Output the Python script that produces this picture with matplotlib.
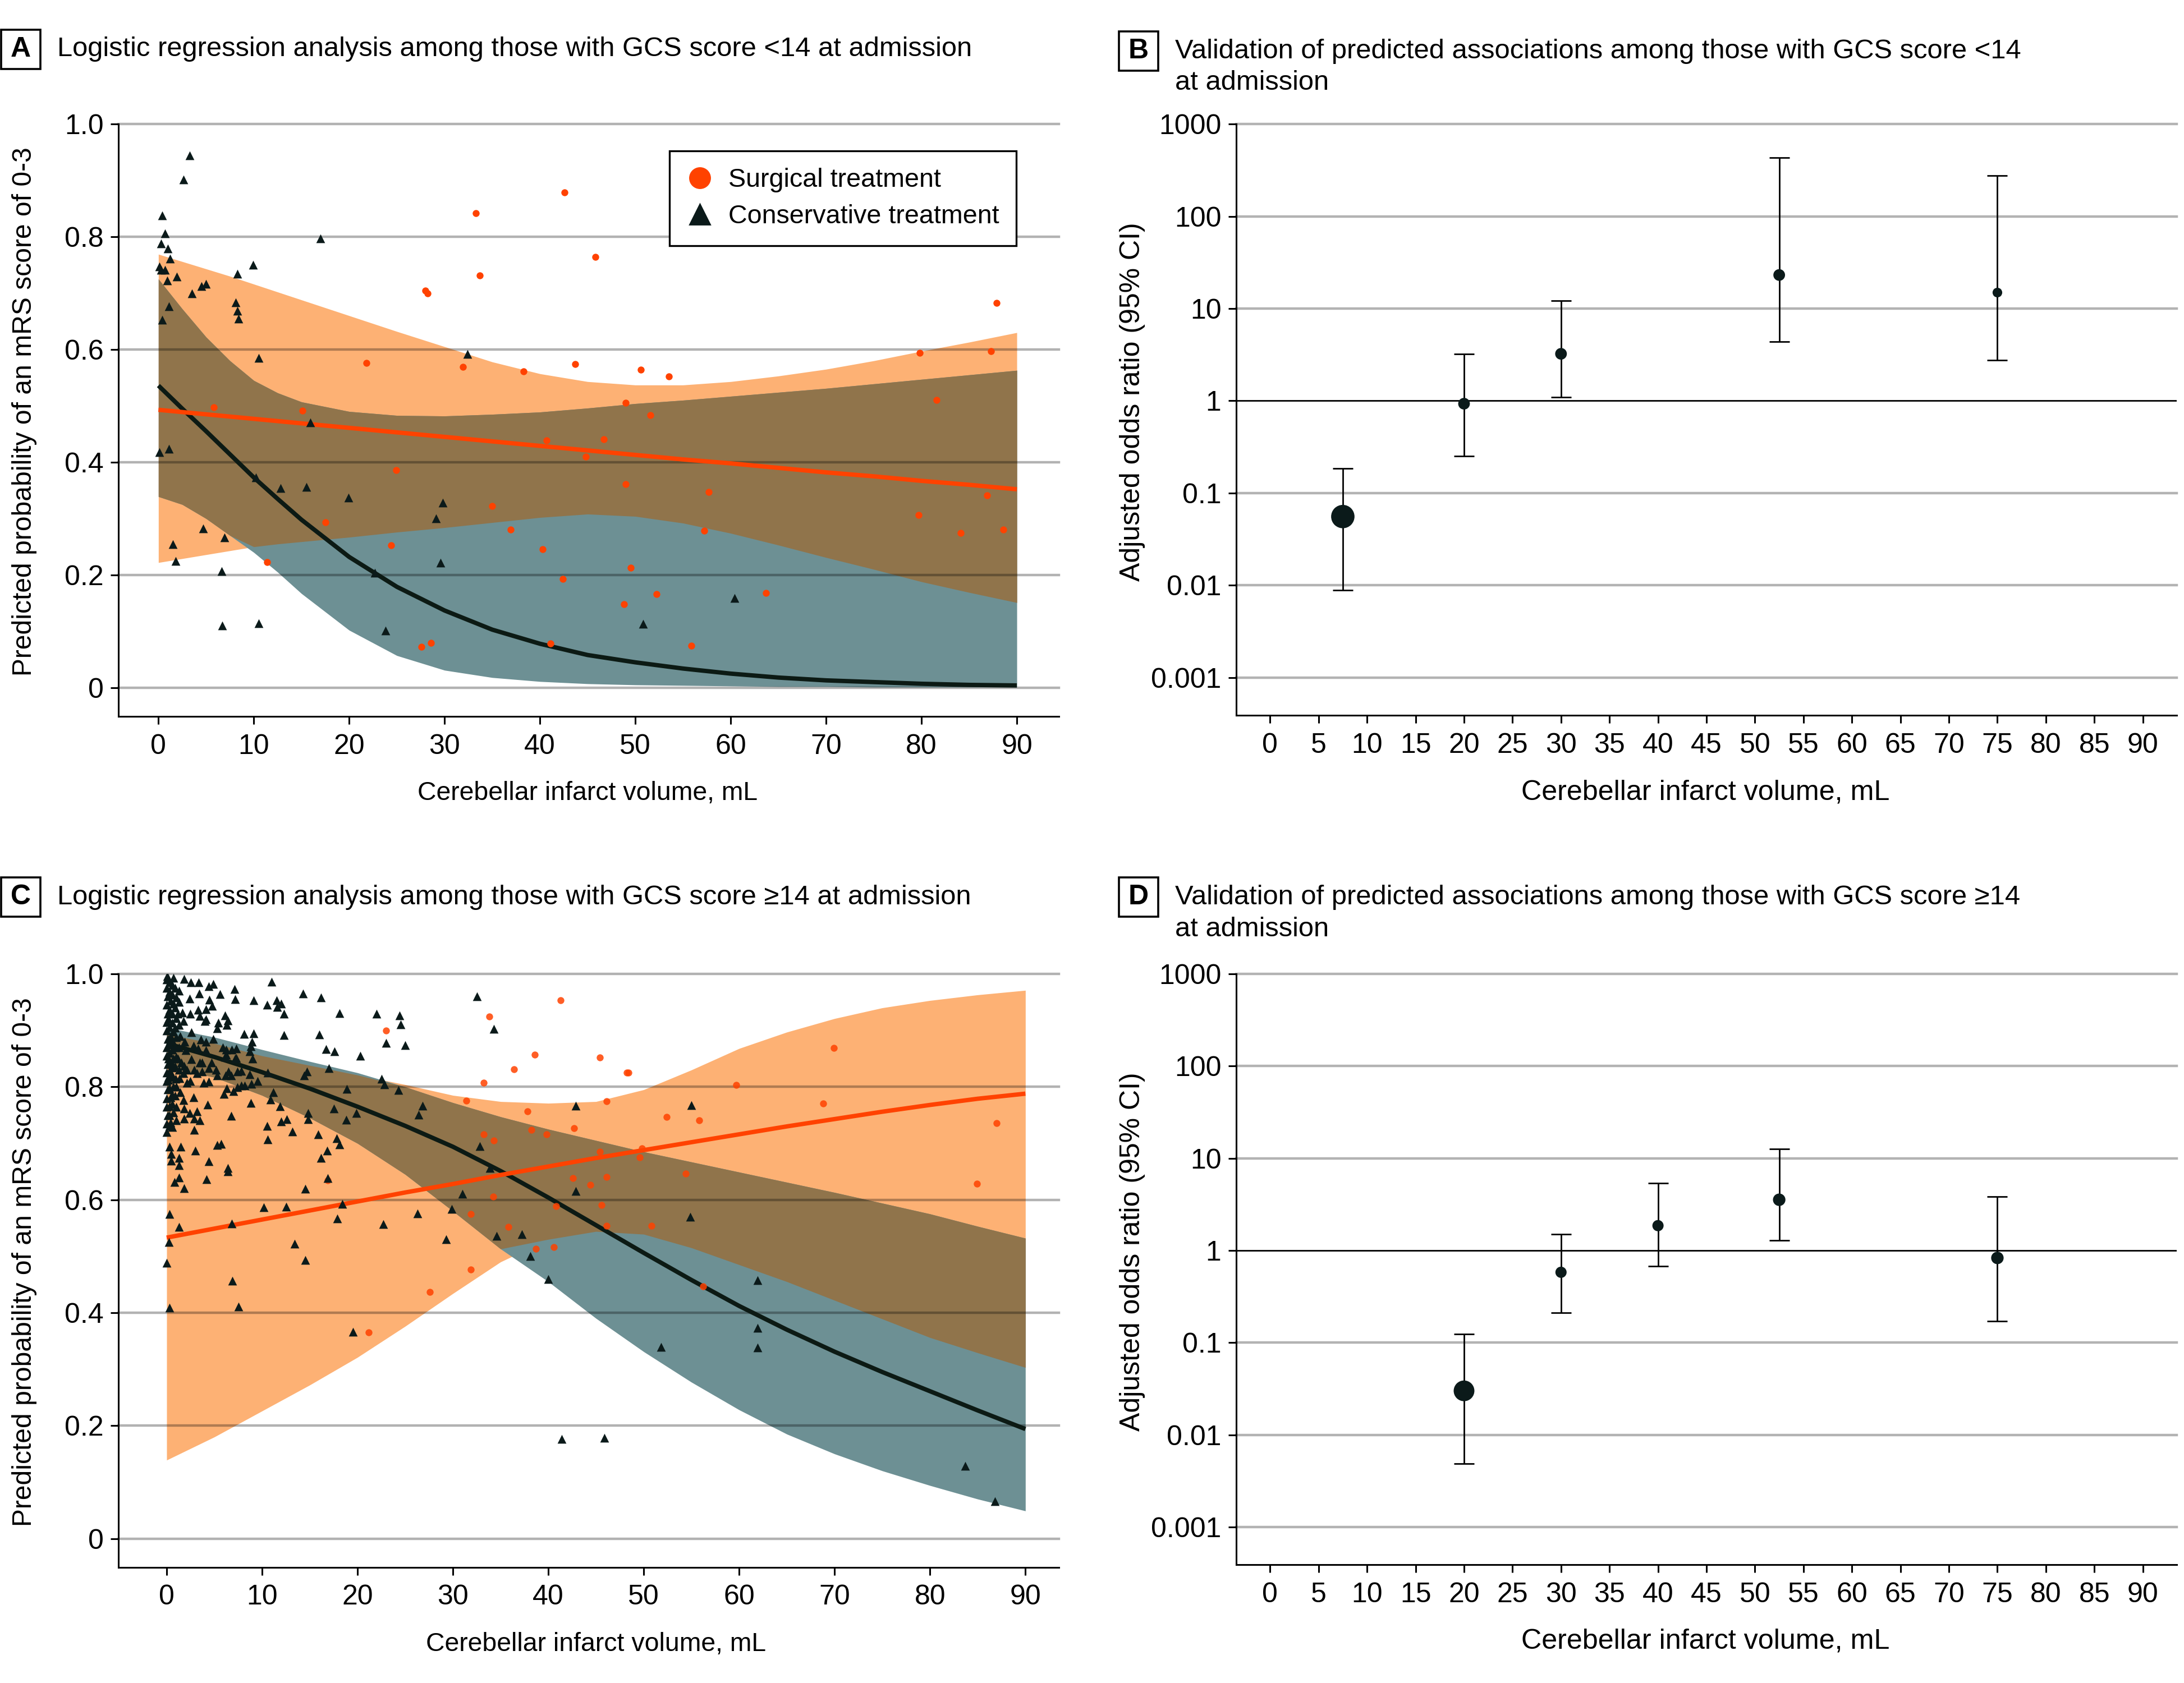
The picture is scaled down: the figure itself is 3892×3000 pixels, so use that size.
import numpy as np
import matplotlib
matplotlib.use('Agg')
import matplotlib.pyplot as plt
from matplotlib import font_manager
from matplotlib.lines import Line2D
from matplotlib.patches import Rectangle

installed = {f.name for f in font_manager.fontManager.ttflist}
FONT = 'Liberation Sans Narrow' if 'Liberation Sans Narrow' in installed else 'Liberation Sans'
plt.rcParams['font.family'] = [FONT, 'DejaVu Sans']

# ---------------- data ----------------
# panel A (GCS < 14): fitted curves and 95% bands
xa = [0, 2.5, 5, 7.5, 10, 12.5, 15, 20, 25, 30, 35, 40, 45, 50, 55, 60, 65, 70, 75, 80, 85, 90]
a_surg_fit = [.493, .489, .485, .481, .477, .473, .469, .461, .453, .445, .437, .429, .421, .413, .405, .398, .390, .382, .375, .367, .360, .352]
a_surg_hi = [.769, .756, .743, .730, .716, .702, .688, .660, .632, .605, .578, .557, .543, .537, .537, .543, .553, .565, .580, .597, .613, .630]
a_surg_lo = [.222, .229, .236, .243, .250, .255, .259, .267, .276, .284, .293, .302, .308, .304, .292, .274, .253, .231, .210, .188, .169, .151]
a_cons_fit = [.536, .495, .455, .414, .373, .335, .298, .232, .179, .137, .103, .078, .058, .045, .034, .025, .018, .013, .010, .007, .005, .004]
a_cons_hi = [.725, .672, .622, .580, .545, .523, .507, .490, .483, .482, .485, .489, .496, .504, .510, .517, .524, .531, .539, .547, .555, .563]
a_cons_lo = [.339, .325, .300, .270, .240, .205, .167, .102, .057, .031, .018, .011, .007, .005, .004, .003, .002, .002, .001, .001, .001, .001]

a_surg_pts_x = [42.6, 33.3, 45.8, 33.7, 28.0, 28.2, 87.9, 21.8, 31.9, 38.3, 43.7, 50.6, 53.5, 79.8, 87.3, 81.6,
                5.8, 15.1, 49.0, 51.6, 40.7, 46.7, 44.8, 24.9, 49.0, 57.7, 86.9, 35.0, 17.5, 36.9, 57.2, 79.7,
                84.1, 88.6, 24.4, 40.3, 11.4, 42.4, 49.5, 52.2, 48.8, 63.7, 27.6, 28.6, 41.1, 55.9]
a_surg_pts_y = [.879, .842, .764, .731, .705, .700, .683, .576, .569, .561, .574, .564, .552, .594, .597, .510,
                .497, .492, .505, .484, .439, .441, .410, .386, .361, .347, .341, .322, .293, .281, .279, .306,
                .275, .281, .253, .246, .223, .193, .213, .166, .148, .168, .073, .079, .078, .075]
a_cons_pts_x = [3.3, 2.6, 0.4, 0.7, 0.3, 1.0, 1.2, 0.1, 0.3, 0.7, 1.9, 0.9, 3.5, 4.5, 5.0, 1.1, 0.4, 8.3, 9.9,
                17.0, 8.1, 8.3, 8.4, 10.5, 32.4, 15.9, 0.1, 1.1, 10.2, 12.8, 15.5, 19.9, 29.8, 29.1, 29.6, 4.7,
                6.9, 1.5, 1.8, 6.6, 22.7, 6.7, 10.5, 23.8, 50.8, 60.4]
a_cons_pts_y = [.944, .902, .838, .806, .788, .779, .761, .747, .741, .741, .729, .722, .700, .712, .716, .677,
                .653, .734, .750, .797, .684, .669, .655, .585, .592, .471, .418, .424, .373, .354, .356, .337,
                .328, .300, .222, .283, .267, .255, .225, .207, .204, .110, .114, .101, .113, .159]

# panel C (GCS >= 14)
xc = [0, 5, 10, 15, 20, 25, 30, 35, 40, 45, 50, 55, 60, 65, 70, 75, 80, 85, 90]
c_surg_fit = [.533, .549, .565, .581, .597, .613, .628, .644, .659, .674, .688, .702, .716, .730, .743, .756, .768, .779, .788]
c_surg_hi = [.893, .877, .855, .838, .821, .804, .785, .774, .771, .774, .795, .830, .868, .897, .921, .940, .953, .963, .971]
c_surg_lo = [.139, .180, .226, .272, .321, .376, .434, .490, .530, .544, .539, .515, .485, .455, .422, .389, .356, .329, .303]
c_cons_fit = [.877, .853, .826, .797, .765, .731, .694, .651, .604, .555, .506, .458, .412, .370, .331, .295, .261, .227, .194]
c_cons_hi = [.905, .888, .866, .845, .825, .800, .772, .747, .725, .705, .685, .667, .649, .631, .613, .594, .575, .553, .532]
c_cons_lo = [.835, .817, .785, .745, .700, .645, .580, .513, .455, .390, .331, .277, .228, .185, .150, .120, .094, .070, .049]

c_surg_pts_x = [23.0, 16.9, 21.2, 41.3, 33.8, 38.6, 36.4, 45.4, 48.2, 48.4, 33.2, 31.4, 37.8, 69.9, 59.7, 68.8,
                46.1, 42.7, 52.4, 55.8, 38.2, 39.8, 33.2, 34.3, 45.4, 49.8, 49.6, 54.4, 42.6, 44.4, 46.1, 34.2,
                31.9, 40.8, 45.6, 50.8, 46.1, 35.8, 38.7, 40.6, 31.9, 27.6, 56.2, 84.9, 87.0]
c_surg_pts_y = [.900, .634, .365, .953, .925, .857, .831, .852, .825, .825, .807, .776, .757, .869, .803, .771,
                .775, .727, .747, .741, .724, .716, .716, .705, .685, .691, .675, .646, .638, .627, .640, .606,
                .575, .589, .591, .554, .554, .552, .513, .516, .476, .437, .447, .629, .736]

# conservative patients, panel C: dense cluster near 0 mL first, then the scattered ones
c_cons_pts_x = [
    0.0, 0.0, 0.1, 0.0, 0.1, 0.0, 0.0, 0.1, 0.0, 0.0, 0.1, 0.0, 0.0, 0.1, 0.0, 0.0, 0.1, 0.0, 0.0,
    0.3, 0.3, 0.4, 0.3, 0.2, 0.3, 0.4, 0.3, 0.3, 0.4, 0.3, 0.2, 0.3, 0.4, 0.3, 0.3, 0.4,
    0.6, 0.6, 0.7, 0.6, 0.6, 0.7, 0.6, 0.6, 0.7, 0.6, 0.6, 0.7, 0.6, 0.6, 0.7,
    0.9, 1.0, 0.9, 1.0, 0.9, 1.0, 0.9, 1.0, 0.9, 1.0, 0.9, 1.0,
    1.3, 1.3, 1.2, 1.3, 1.4, 1.3, 1.2, 1.3, 1.4,
    0.08, 0.73, 1.8, 2.55, 3.35, 4.4, 4.9, 7.1, 5.6, 7.2, 3.4, 2.4, 4.45, 4.75, 3.3, 4.1, 2.5, 1.65,
    3.5, 4.1, 4.0, 6.1, 6.4, 5.4, 5.3, 6.3, 4.9, 2.6, 3.6, 4.1, 1.75, 1.9, 2.0, 2.8, 3.3, 4.1, 5.9,
    6.25, 6.8, 7.3, 7.3, 6.25,
    2.8, 4.3, 6.75, 6.0, 7.0, 6.3, 7.4, 1.75, 1.85, 3.2, 2.4, 2.9, 3.5, 1.85, 1.0, 2.9, 0.27, 0.6,
    0.27, 1.45, 5.7, 5.3,
    0.2, 0.6, 2.1, 2.9, 3.7, 3.7, 4.4, 4.7, 5.2, 5.3, 6.2, 6.45, 6.75, 7.2, 7.4, 3.9, 4.4, 2.1, 2.5,
    1.35, 0.96, 1.75, 3.2, 1.55, 2.6, 3.5, 6.1, 1.85, 0.57, 0.18,
    11.0, 14.3, 16.2, 18.1, 22.0, 24.4, 24.5, 23.0, 25.0, 20.3, 17.6, 16.7, 17.0, 16.0, 12.3, 9.1,
    8.1, 9.1, 10.5, 11.5, 12.0, 11.6, 12.3, 8.96, 8.8, 8.7, 9.0, 7.8, 8.7, 9.5, 8.9, 8.2, 7.8, 10.6,
    14.4, 14.7, 11.2, 10.9, 8.8, 11.9, 17.5, 18.9, 22.5, 22.8, 24.3, 19.9, 18.8, 14.8, 14.8, 26.4,
    12.6, 12.0, 10.5, 13.2, 10.6, 15.9, 17.8, 18.1, 16.8, 16.2,
    3.0, 1.3, 1.3, 4.4, 6.4, 6.4, 1.3, 0.8, 1.8, 4.2, 0.5, 0.5, 0.3, 1.3, 0.25, 6.8,
    16.9, 14.5, 10.2, 12.5, 18.4, 17.9, 22.7, 26.3, 13.4,
    0.0, 0.3, 7.5, 6.9, 14.5, 19.5,
    32.5, 34.3, 26.8, 42.9, 55.0, 32.8, 33.9, 31.0, 29.9, 29.3, 34.6, 37.2, 38.1, 40.0, 42.9, 54.9,
    61.9, 61.9, 61.9, 51.8, 41.4, 45.9, 83.7, 86.8]
c_cons_pts_y = [
    .990, .975, .960, .945, .930, .915, .900, .885, .870, .855, .840, .825, .810, .795, .780, .765, .750, .735, .720,
    .985, .968, .952, .937, .921, .906, .890, .875, .860, .843, .828, .812, .797, .782, .766, .750, .737,
    .980, .963, .947, .930, .914, .898, .882, .866, .850, .834, .818, .800, .785, .770, .755,
    .975, .958, .940, .922, .905, .888, .870, .853, .836, .800, .784, .765,
    .970, .950, .930, .910, .890, .870, .850, .830, .790,
    .996, .993, .991, .985, .985, .978, .982, .973, .964, .955, .965, .956, .954, .943, .937, .938, .930, .932,
    .926, .920, .917, .927, .918, .914, .904, .910, .885, .897, .884, .880, .917, .880, .865, .873, .868, .865, .870,
    .866, .866, .868, .851, .857,
    .782, .769, .749, .787, .792, .797, .799, .777, .762, .757, .754, .744, .741, .744, .741, .724, .731, .729,
    .694, .694, .699, .697,
    .817, .820, .830, .830, .843, .827, .833, .843, .830, .820, .820, .827, .820, .850, .827, .807, .809, .807, .810,
    .815, .814, .824, .824, .843, .849, .843, .853, .837, .840, .850,
    .986, .965, .958, .931, .930, .927, .911, .878, .874, .855, .863, .867, .833, .893, .892, .895,
    .894, .953, .945, .953, .947, .941, .930, .880, .872, .863, .850, .828, .822, .810, .805, .802, .802, .825,
    .820, .827, .790, .778, .772, .766, .762, .796, .814, .804, .794, .754, .742, .754, .743, .751,
    .743, .739, .731, .721, .707, .716, .709, .698, .687, .674,
    .687, .674, .661, .668, .656, .650, .639, .631, .621, .636, .681, .669, .575, .552, .525, .558,
    .638, .620, .587, .588, .593, .567, .557, .576, .522,
    .488, .409, .411, .457, .493, .366,
    .960, .903, .767, .767, .768, .695, .656, .611, .584, .530, .536, .539, .500, .460, .616, .570,
    .458, .373, .338, .339, .176, .178, .129, .066]

# panels B and D: adjusted odds ratios with 95% CI
b_x = [7.5, 20, 30, 52.5, 75]
b_or = [0.0556, 0.93, 3.23, 23.1, 14.9]
b_lo = [0.0089, 0.253, 1.09, 4.4, 2.75]
b_hi = [0.186, 3.23, 12.2, 430, 276]

d_x = [20, 30, 40, 52.5, 75]
d_or = [0.030, 0.58, 1.86, 3.55, 0.83]
d_lo = [0.0049, 0.21, 0.68, 1.28, 0.171]
d_hi = [0.124, 1.50, 5.37, 12.6, 3.84]

# ---------------- style ----------------
ORANGE_BAND = '#FDB174'
TEAL_BAND = '#6D9094'
OVERLAP = '#90744B'
SURG = '#FF4200'
CONS = '#0B1A1A'
FS_TICK = 18
FS_TITLE = 17.6
FS_LEGEND = 16.8

fig = plt.figure(figsize=(19.46, 15.0), dpi=200)
fig.patch.set_facecolor('white')


def style_axes(ax):
    for s in ['top', 'right']:
        ax.spines[s].set_visible(False)
    for s in ['left', 'bottom']:
        ax.spines[s].set_linewidth(1.1)
    ax.tick_params(direction='out', length=5, width=1.1, labelsize=FS_TICK)
    ax.tick_params(axis='x', pad=6)
    ax.tick_params(axis='y', pad=4.5)
    ax.tick_params(which='minor', length=0)


def regression_panel(rect, xlim, x, s_fit, s_lo, s_hi, c_fit, c_lo, c_hi,
                     sx, sy, cx, cy, surg_alpha=1.0):
    ax = fig.add_axes(rect)
    x = np.asarray(x)
    s_lo, s_hi = np.asarray(s_lo), np.asarray(s_hi)
    c_lo, c_hi = np.asarray(c_lo), np.asarray(c_hi)
    ax.fill_between(x, s_lo, s_hi, color=ORANGE_BAND, lw=0, zorder=1)
    ax.fill_between(x, c_lo, c_hi, color=TEAL_BAND, lw=0, zorder=1.1)
    o_lo = np.maximum(s_lo, c_lo)
    o_hi = np.minimum(s_hi, c_hi)
    ax.fill_between(x, o_lo, o_hi, where=o_hi > o_lo, interpolate=True,
                    color=OVERLAP, lw=0, zorder=1.2)
    for yv in [0, 0.2, 0.4, 0.6, 0.8, 1.0]:
        ax.axhline(yv, color='black', alpha=0.3, lw=1.6, zorder=1.5, clip_on=False)
    ax.plot(x, c_fit, color='#0C1A14', lw=2.8, zorder=3, solid_capstyle='butt')
    ax.plot(x, s_fit, color=SURG, lw=2.8, zorder=3.1, solid_capstyle='butt')
    ax.scatter(sx, sy, s=20, marker='o', color=SURG, lw=0, alpha=surg_alpha, zorder=4)
    ax.scatter(cx, cy, s=32, marker='^', color=CONS, lw=0, zorder=5)
    ax.set_xlim(*xlim)
    ax.set_ylim(-0.051, 1.0)
    ax.set_xticks(range(0, 91, 10))
    ax.set_yticks([0, 0.2, 0.4, 0.6, 0.8, 1.0])
    ax.set_yticklabels(['0', '0.2', '0.4', '0.6', '0.8', '1.0'])
    style_axes(ax)
    ax.set_xlabel('Cerebellar infarct volume, mL', fontsize=16.7, va='center')
    # centred under the 0-90 range
    ax.xaxis.set_label_coords((45 - xlim[0]) / (xlim[1] - xlim[0]), -0.13)
    ax.set_ylabel('Predicted probability of an mRS score of 0-3', fontsize=17.3,
                  va='center', ha='center')
    ax.yaxis.set_label_coords(-0.1, 0.515)
    return ax


def odds_panel(rect, x, orv, lo, hi, msizes):
    ax = fig.add_axes(rect)
    ax.set_yscale('log')
    for yv in [0.001, 0.01, 0.1, 10, 100, 1000]:
        ax.axhline(yv, color='#B3B3B3', lw=1.6, zorder=1, clip_on=False)
    ax.axhline(1, color='black', lw=1.0, zorder=1.2)
    orv, lo, hi = np.asarray(orv), np.asarray(lo), np.asarray(hi)
    ax.errorbar(x, orv, yerr=[orv - lo, hi - orv], fmt='none', ecolor='black',
                elinewidth=1.0, capsize=6.5, capthick=1.0, zorder=2)
    ax.scatter(x, orv, s=np.asarray(msizes) ** 2, color=CONS, lw=0, zorder=3)
    ax.set_xlim(-3.5, 93.5)
    ax.set_ylim(3.9e-4, 1000)
    ax.set_xticks(range(0, 91, 5))
    ax.set_yticks([0.001, 0.01, 0.1, 1, 10, 100, 1000])
    ax.set_yticklabels(['0.001', '0.01', '0.1', '1', '10', '100', '1000'])
    ax.minorticks_off()
    style_axes(ax)
    ax.set_xlabel('Cerebellar infarct volume, mL', fontsize=18.1, va='center')
    ax.xaxis.set_label_coords(0.499, -0.13)
    ax.set_ylabel('Adjusted odds ratio (95% CI)', fontsize=18, va='center', ha='center')
    ax.yaxis.set_label_coords(-0.11, 0.53)
    return ax


axA = regression_panel([0.0542, 0.5743, 0.4306, 0.352], (-4.2, 94.4), xa,
                       a_surg_fit, a_surg_lo, a_surg_hi, a_cons_fit, a_cons_lo, a_cons_hi,
                       a_surg_pts_x, a_surg_pts_y, a_cons_pts_x, a_cons_pts_y)
axC = regression_panel([0.0542, 0.0687, 0.4306, 0.3526], (-5.06, 93.5), xc,
                       c_surg_fit, c_surg_lo, c_surg_hi, c_cons_fit, c_cons_lo, c_cons_hi,
                       c_surg_pts_x, c_surg_pts_y, c_cons_pts_x, c_cons_pts_y, surg_alpha=0.85)
axB = odds_panel([0.566, 0.575, 0.4307, 0.3513], b_x, b_or, b_lo, b_hi, [15, 7.5, 7.5, 7.5, 6.2])
axD = odds_panel([0.566, 0.0703, 0.4307, 0.351], d_x, d_or, d_lo, d_hi, [13.3, 7.2, 7.2, 8, 8])

handles = [Line2D([], [], marker='o', color=SURG, ls='none', markersize=13),
           Line2D([], [], marker='^', color=CONS, ls='none', markersize=13)]
leg = axA.legend(handles, ['Surgical treatment', 'Conservative treatment'],
                 loc='upper right', bbox_to_anchor=(0.955, 0.955), fontsize=FS_LEGEND,
                 frameon=True, fancybox=False, edgecolor='black', framealpha=1,
                 borderpad=0.65, labelspacing=0.45, handlelength=1.0, handletextpad=0.6,
                 borderaxespad=0)
leg.get_frame().set_linewidth(1.2)
leg.set_zorder(10)

# panel letters and titles
W, H = 3892.0, 3000.0


def panel_label(letter, cx, cy, lines):
    bw, bh = 70, 70
    fig.patches.append(Rectangle(((cx - bw / 2) / W, 1 - (cy + bh / 2) / H), bw / W, bh / H,
                                 transform=fig.transFigure, fill=False, ec='black', lw=1.3))
    fig.text(cx / W, 1 - cy / H, letter, fontsize=18, fontweight='bold',
             ha='center', va='center')
    for i, line in enumerate(lines):
        fig.text((cx + 65) / W, 1 - (cy + 57 * i) / H, line, fontsize=FS_TITLE,
                 ha='left', va='center')


panel_label('A', 37, 88, ['Logistic regression analysis among those with GCS score <14 at admission'])
panel_label('B', 2029, 91, ['Validation of predicted associations among those with GCS score <14',
                            'at admission'])
panel_label('C', 37, 1599, ['Logistic regression analysis among those with GCS score \u226514 at admission'])
panel_label('D', 2029, 1599, ['Validation of predicted associations among those with GCS score \u226514',
                              'at admission'])

fig.savefig('out.png', dpi=200, facecolor='white')
print('saved out.png')
